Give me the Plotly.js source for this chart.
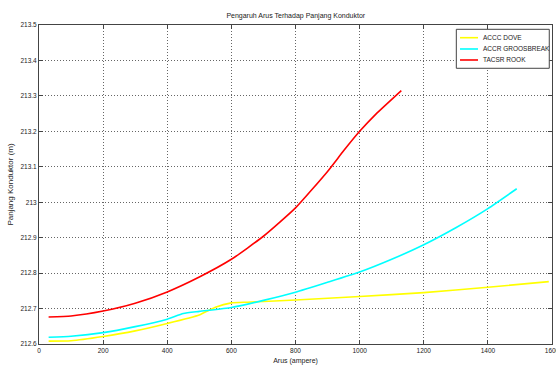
<!DOCTYPE html>
<html>
<head>
<meta charset="utf-8">
<script src="https://cdn.plot.ly/plotly-3.0.1.min.js"></script>
<style>html,body{margin:0;padding:0;background:#fff;}#chart{width:556px;height:367px;}</style>
</head>
<body>
<div id="chart"></div>
<script>
// Data
const seriesNames = ["ACCC DOVE", "ACCR GROOSBREAK", "TACSR ROOK"];
const seriesColors = ["#ffff00", "#00ffff", "#ff0000"];

const accc_x = [30, 100, 200, 300, 400, 500, 550, 600, 650, 700, 800, 1000, 1200, 1400, 1590];
const accc_y = [212.608, 212.609, 212.621, 212.637, 212.658, 212.682, 212.704, 212.716, 212.718, 212.720, 212.724, 212.734, 212.745, 212.760, 212.776];

const accr_x = [30, 100, 200, 300, 400, 450, 500, 600, 700, 800, 900, 1000, 1100, 1200, 1300, 1400, 1490];
const accr_y = [212.619, 212.622, 212.632, 212.649, 212.670, 212.686, 212.692, 212.703, 212.723, 212.746, 212.774, 212.803, 212.839, 212.880, 212.928, 212.982, 213.038];

const tacsr_x = [30, 100, 200, 300, 400, 500, 600, 700, 800, 900, 950, 1000, 1050, 1130];
const tacsr_y = [212.676, 212.679, 212.693, 212.715, 212.747, 212.789, 212.839, 212.904, 212.984, 213.087, 213.145, 213.200, 213.248, 213.315];

const xTicks = [0, 200, 400, 600, 800, 1000, 1200, 1400, 1600];
const yTicks = [212.6, 212.7, 212.8, 212.9, 213, 213.1, 213.2, 213.3, 213.4, 213.5];
const yTickText = ["212.6", "212.7", "212.8", "212.9", "213", "213.1", "213.2", "213.3", "213.4", "213.5"];

const FONT = "'Liberation Sans Narrow', 'Arial Narrow', 'Liberation Sans', Arial, sans-serif";

const xs = [accc_x, accr_x, tacsr_x];
const ys = [accc_y, accr_y, tacsr_y];
const traces = seriesNames.map((n, i) => ({
  type: "scatter", mode: "lines", name: n,
  x: xs[i], y: ys[i],
  line: {color: seriesColors[i], width: 1.6, shape: "spline", smoothing: 0.5}
}));

const axisCommon = {
  showline: true, linecolor: "#444", linewidth: 1, mirror: "ticks",
  ticks: "inside", ticklen: 4, tickcolor: "#444",
  showgrid: true, gridcolor: "#666", griddash: "1px,2px", gridwidth: 1,
  zeroline: false, tickfont: {family: FONT, size: 6.5, color: "#222"},
  ticklabeloverflow: "allow"
};

// Legend box drawn in the MATLAB style (small line samples)
const legBox = {x0: 0.8135, x1: 0.9947, y0: 0.8643, y1: 0.9865};
const legRows = [0.9602, 0.9248, 0.8903];
const legLineX = [0.8207, 0.8558];
const legTextX = 0.862;

const shapes = [{
  type: "rect", xref: "paper", yref: "paper",
  x0: legBox.x0, x1: legBox.x1, y0: legBox.y0, y1: legBox.y1,
  fillcolor: "#fff", line: {color: "#444", width: 1}, layer: "above"
}];
const annotations = [];
seriesNames.forEach((n, i) => {
  shapes.push({type: "line", xref: "paper", yref: "paper",
    x0: legLineX[0], x1: legLineX[1], y0: legRows[i], y1: legRows[i],
    line: {color: seriesColors[i], width: 1.6}, layer: "above"});
  annotations.push({xref: "paper", yref: "paper", x: legTextX, y: legRows[i],
    xanchor: "left", yanchor: "middle", showarrow: false, text: n,
    font: {family: FONT, size: 6.5, color: "#222"}});
});

const layout = {
  width: 556, height: 367,
  margin: {l: 39, r: 4, t: 25, b: 23},
  paper_bgcolor: "#fff", plot_bgcolor: "#fff",
  title: {text: "Pengaruh Arus Terhadap Panjang Konduktor", font: {family: FONT, size: 7, color: "#222"},
          x: 0.532, xanchor: "center", y: 0.957, yanchor: "middle"},
  xaxis: Object.assign({}, axisCommon, {
    range: [0, 1600], tickvals: xTicks, ticktext: xTicks.map(String),
    title: {text: "Arus (ampere)", font: {family: FONT, size: 7, color: "#222"}, standoff: 5}
  }),
  yaxis: Object.assign({}, axisCommon, {
    range: [212.6, 213.5], tickvals: yTicks, ticktext: yTickText,
    title: {text: "Panjang Konduktor (m)", font: {family: FONT, size: 8, color: "#222"}, standoff: 5}
  }),
  showlegend: false,
  shapes: shapes,
  annotations: annotations
};

Plotly.newPlot("chart", traces, layout, {displayModeBar: false, staticPlot: true});
</script>
</body>
</html>
